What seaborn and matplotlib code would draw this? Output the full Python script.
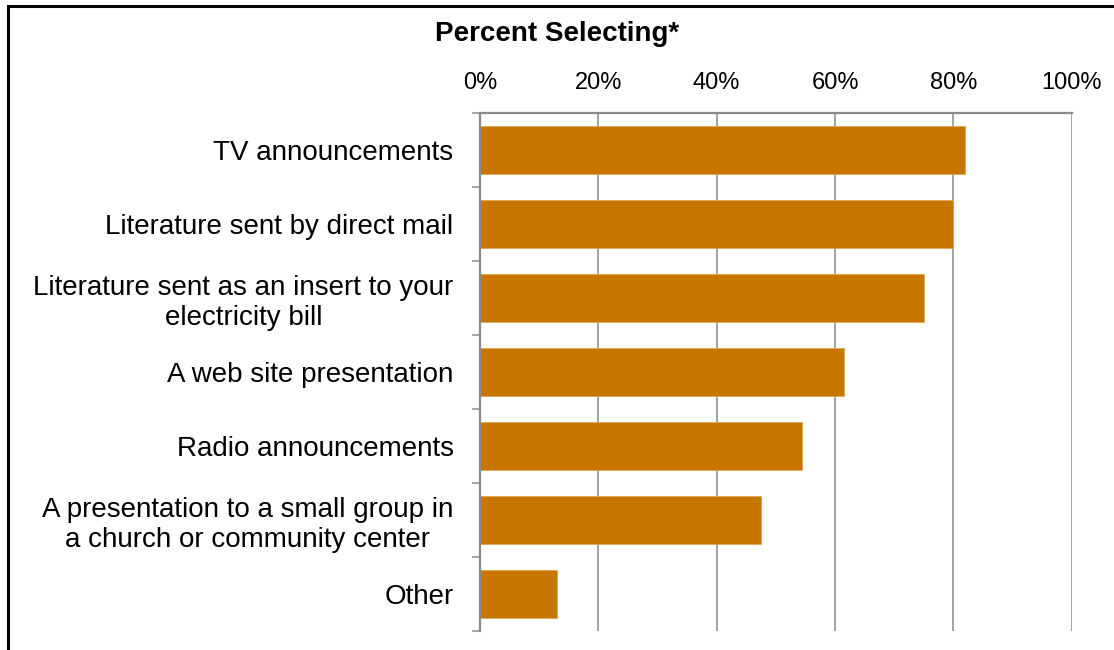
import matplotlib
matplotlib.use("Agg")
import matplotlib.pyplot as plt
import matplotlib.patches as mpatches
from matplotlib.ticker import FuncFormatter, FixedLocator
import seaborn as sns
import pandas as pd

# Survey results: share of respondents choosing each information channel
categories = [
    "TV announcements",
    "Literature sent by direct mail",
    "Literature sent as an insert to your\nelectricity bill",
    "A web site presentation",
    "Radio announcements",
    "A presentation to a small group in\na church or community center",
    "Other",
]
percent_selecting = [82, 80, 75, 61.5, 54.5, 47.5, 13]
x_ticks = [0, 20, 40, 60, 80, 100]

BAR_COLOR = "#C77700"
AXIS_GRAY = "#8A8A8A"

sns.set_theme(style="white")
plt.rcParams["font.family"] = ["Liberation Sans", "DejaVu Sans"]
plt.rcParams["text.color"] = "black"

df = pd.DataFrame({"channel": categories, "pct": percent_selecting})

fig = plt.figure(figsize=(11.14, 6.5), dpi=100)
ax = fig.add_axes([480 / 1114, 1 - 631 / 650, (1071.7 - 480) / 1114, (631 - 113) / 650])

sns.barplot(data=df, x="pct", y="channel", orient="h", color=BAR_COLOR,
            width=0.64, saturation=1, edgecolor="#E0A552", linewidth=0.6, ax=ax)

ax.set_xlim(0, 100)
ax.set_ylim(len(categories) - 0.5, -0.5)
ax.set_xlabel("")
ax.set_ylabel("")

# Percent axis along the top with vertical gridlines
ax.xaxis.tick_top()
ax.xaxis.set_major_locator(FixedLocator(x_ticks))
ax.xaxis.set_major_formatter(FuncFormatter(lambda v, _: f"{v:.0f}%"))
ax.tick_params(axis="x", length=0, pad=14, labelsize=17, colors="black")
ax.grid(axis="x", color=AXIS_GRAY, linewidth=1.1)
ax.grid(axis="y", visible=False)
ax.set_axisbelow(True)

# Category labels centred on each bar, tick marks between categories
ax.tick_params(axis="y", which="major", length=0, pad=19, labelsize=20, colors="black")
for lbl in ax.get_yticklabels():
    lbl.set_multialignment("center")
    lbl.set_linespacing(1.2)
ax.yaxis.set_minor_locator(FixedLocator([i - 0.5 for i in range(len(categories) + 1)]))
ax.tick_params(axis="y", which="minor", left=True, length=6, width=1.1, color=AXIS_GRAY)

for side in ("right", "bottom"):
    ax.spines[side].set_visible(False)
for side in ("left", "top"):
    ax.spines[side].set_visible(True)
    ax.spines[side].set_color(AXIS_GRAY)
    ax.spines[side].set_linewidth(1.6)

fig.text(557 / 1114, 1 - 34 / 650, "Percent Selecting*", ha="center", va="center",
         fontsize=20, fontweight="bold", color="black")

# Black outline framing the chart area
frame = mpatches.Rectangle((7.5 / 1114, -0.2), 1.2, 1.2 - 5.5 / 650,
                           transform=fig.transFigure, fill=False,
                           edgecolor="black", linewidth=2.2, clip_on=False)
fig.patches.append(frame)

fig.savefig("out.png", dpi=100, facecolor="white")
